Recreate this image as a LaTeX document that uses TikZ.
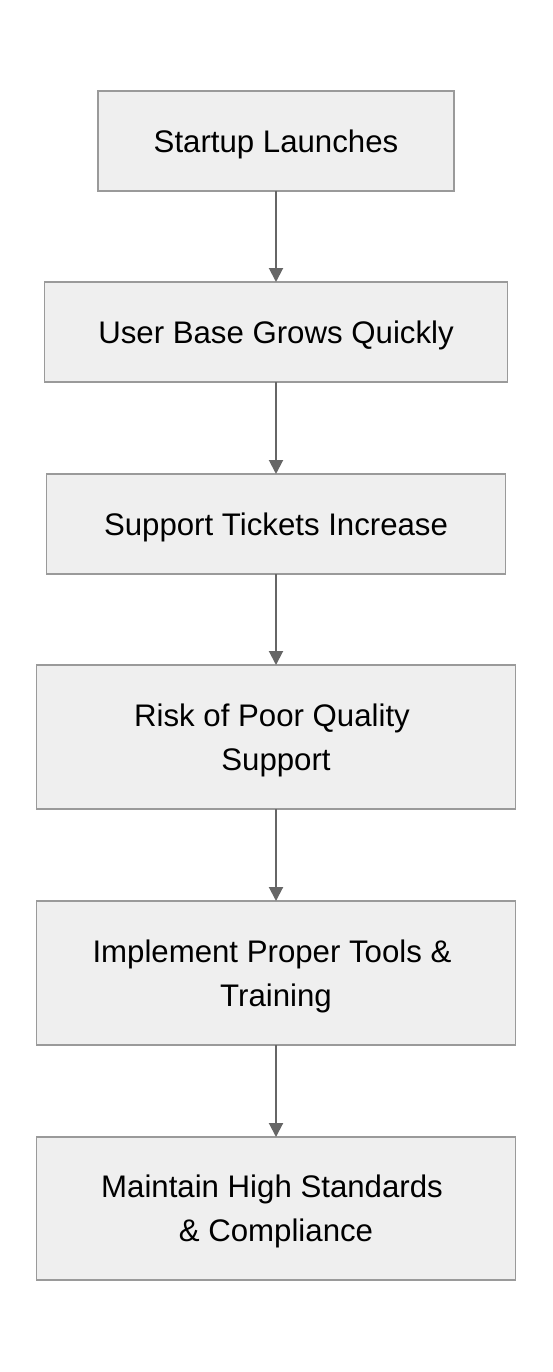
\documentclass[tikz,border=0pt]{standalone}
\usepackage{fontspec}
\setmainfont{Liberation Sans}
\usetikzlibrary{arrows.meta}
\definecolor{boxfill}{HTML}{EFEFEF}
\definecolor{boxline}{HTML}{9A9A9A}
\definecolor{arrcol}{HTML}{666666}
\begin{document}
\begin{tikzpicture}[x=1pt,y=-1pt,
  stepbox/.style={draw=boxline,fill=boxfill,line width=1.5pt,inner sep=0pt,outer sep=0pt},
  lbl/.style={inner sep=0pt,align=center,font=\fontsize{31.2}{44}\selectfont,text=black,yshift=-3pt},
  arr/.style={draw=arrcol,line width=2pt,-{Triangle[length=14pt,width=14pt]}}]
\useasboundingbox (0,0) rectangle (552,1372);
\node[stepbox,minimum width=356pt,minimum height=100pt] (b1) at (276,141) {};
\node[stepbox,minimum width=463pt,minimum height=100pt] (b2) at (276,332) {};
\node[stepbox,minimum width=459pt,minimum height=100pt] (b3) at (276,524) {};
\node[stepbox,minimum width=479pt,minimum height=144pt] (b4) at (276,737) {};
\node[stepbox,minimum width=479pt,minimum height=144pt] (b5) at (276,973) {};
\node[stepbox,minimum width=479pt,minimum height=143pt] (b6) at (276,1208.5) {};
\node[lbl] (t1) at (b1.center) {Startup Launches};
\node[lbl] (t2) at (b2.center) {User Base Grows Quickly};
\node[lbl] (t3) at (b3.center) {Support Tickets Increase};
\node[lbl] (t4) at (b4.center) {Risk of Poor Quality\hspace*{8pt}\\Support};
\node[lbl] (t5) at (b5.center) {Implement Proper Tools \&\hspace*{8pt}\\Training};
\node[lbl] (t6) at (b6.center) {Maintain High Standards\hspace*{8pt}\\\& Compliance};
\draw[arr] (b1) -- (b2);
\draw[arr] (b2) -- (b3);
\draw[arr] (b3) -- (b4);
\draw[arr] (b4) -- (b5);
\draw[arr] (b5) -- (b6);
\end{tikzpicture}
\end{document}
